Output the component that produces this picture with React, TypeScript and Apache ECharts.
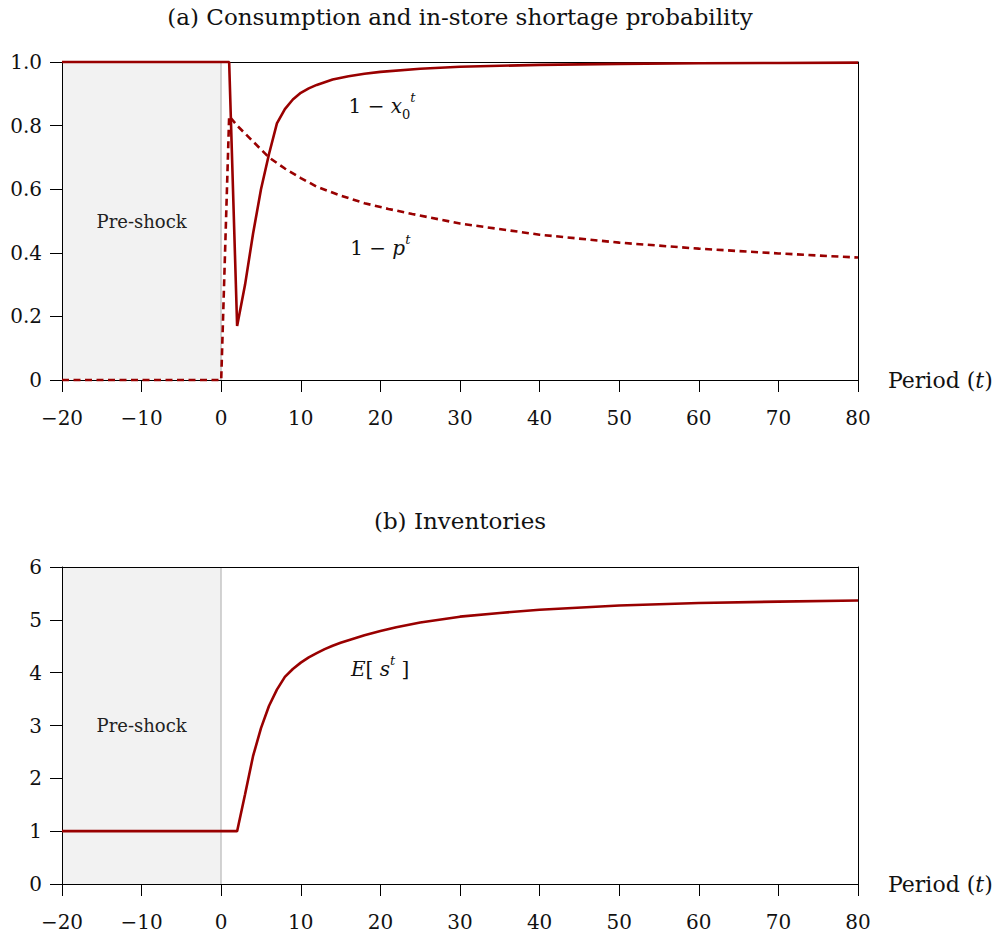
import React, { useEffect, useRef } from "react";
import * as echarts from "echarts";

// ---- data ----
const tConsumption = [-20, 0, 1, 2, 3, 4, 5, 6, 7, 8, 9, 10, 11, 12, 14, 16, 18, 20, 25, 30, 40, 50, 60, 70, 80];
const consumption = [1, 1, 1, 0.17, 0.3, 0.46, 0.6, 0.71, 0.807, 0.852, 0.882, 0.903, 0.917, 0.928, 0.945, 0.955, 0.963, 0.969, 0.979, 0.985, 0.991, 0.994, 0.996, 0.997, 0.998];

const tShortage = [-20, 0, 1, 2, 3, 4, 5, 6, 8, 10, 12, 15, 18, 21, 24, 30, 40, 50, 60, 70, 80];
const shortage = [0, 0, 0.83, 0.8, 0.775, 0.75, 0.725, 0.7, 0.665, 0.635, 0.608, 0.58, 0.556, 0.538, 0.522, 0.492, 0.457, 0.432, 0.413, 0.398, 0.385];

const tInventory = [-20, 0, 2, 3, 4, 5, 6, 7, 8, 9, 10, 11, 12, 13, 14, 15, 16, 18, 20, 22, 25, 30, 35, 40, 50, 60, 70, 80];
const inventory = [1, 1, 1, 1.7, 2.42, 2.95, 3.37, 3.68, 3.92, 4.07, 4.19, 4.29, 4.37, 4.445, 4.51, 4.565, 4.615, 4.71, 4.79, 4.86, 4.95, 5.06, 5.13, 5.19, 5.27, 5.32, 5.345, 5.365];

const xTicks = { min: -20, max: 80, interval: 10 };
const yTicksA = { min: 0, max: 1, interval: 0.2 };
const yTicksB = { min: 0, max: 6, interval: 1 };
const preShock = [-20, 0];
const titles = ["(a) Consumption and in-store shortage probability", "(b) Inventories"];
// annotation anchors [t, value]
const labelX0 = [16.0, 0.863];
const labelP = [16.2, 0.415];
const labelS = [16.3, 4.07];
const preShockLabelText = "Pre-shock";

const RED = "#990000";
const FONT = "'DejaVu Serif', serif";
const TXT = "#111";

const zip = (xs: number[], ys: number[]) => xs.map((x, i) => [x, ys[i]]);

const richStyles = {
  n: { fontFamily: FONT, fontSize: 20, color: TXT, lineHeight: 30 },
  i: { fontFamily: FONT, fontSize: 20, fontStyle: "italic", color: TXT, lineHeight: 30 },
  sub: { fontFamily: FONT, fontSize: 13, color: TXT, lineHeight: 14, verticalAlign: "bottom" },
  sup: { fontFamily: FONT, fontSize: 13, fontStyle: "italic", color: TXT, lineHeight: 16, verticalAlign: "top" },
};

export default function App() {
  const ref = useRef<HTMLDivElement>(null);
  useEffect(() => {
    if (!ref.current) return;
    const chart = echarts.init(ref.current, null, { renderer: "svg" });

    const xAxisBase = (gridIndex: number) => ({
      type: "value",
      gridIndex,
      ...xTicks,
      name: "Period ({it|t})",
      nameLocation: "end",
      nameGap: 30,
      nameTextStyle: {
        fontFamily: FONT,
        fontSize: 22,
        color: TXT,
        verticalAlign: "middle",
        rich: {
          it: { fontFamily: FONT, fontSize: 22, fontStyle: "italic", color: TXT },
        },
      },
      axisLine: { show: true, onZero: false, lineStyle: { color: "#000", width: 1 } },
      axisTick: { show: true, length: 12, lineStyle: { color: "#000", width: 1 } },
      axisLabel: {
        margin: 28,
        fontFamily: FONT,
        fontSize: 20,
        color: TXT,
        formatter: (v: number) => (v < 0 ? "\u2212" + String(-v) : String(v)),
      },
      splitLine: { show: false },
    });

    const frameX = (gridIndex: number) => ({
      type: "value",
      gridIndex,
      ...xTicks,
      position: "top",
      axisLine: { show: true, onZero: false, lineStyle: { color: "#000", width: 1 } },
      axisTick: { show: false },
      axisLabel: { show: false },
      splitLine: { show: false },
    });

    const yAxisBase = (gridIndex: number, ticks: any, fmt: (v: number) => string) => ({
      type: "value",
      gridIndex,
      ...ticks,
      axisLine: { show: true, onZero: false, lineStyle: { color: "#000", width: 1 } },
      axisTick: { show: true, length: 12, lineStyle: { color: "#000", width: 1 } },
      axisLabel: { margin: 20, fontFamily: FONT, fontSize: 20, color: TXT, formatter: fmt },
      splitLine: { show: false },
    });

    const frameY = (gridIndex: number, ticks: any) => ({
      type: "value",
      gridIndex,
      ...ticks,
      position: "right",
      axisLine: { show: true, onZero: false, lineStyle: { color: "#000", width: 1 } },
      axisTick: { show: false },
      axisLabel: { show: false },
      splitLine: { show: false },
    });

    const shadeSeries = (xi: number, yi: number) => ({
      type: "line",
      xAxisIndex: xi,
      yAxisIndex: yi,
      data: [],
      z: -2,
      silent: true,
      markArea: {
        z: -2,
        silent: true,
        itemStyle: { color: "#f2f2f2" },
        label: {
          show: true,
          position: "inside",
          formatter: preShockLabelText,
          fontFamily: FONT,
          fontSize: 18,
          color: "#222",
        },
        data: [[{ xAxis: preShock[0] }, { xAxis: preShock[1] }]],
      },
      markLine: {
        z: -1,
        silent: true,
        symbol: "none",
        label: { show: false },
        lineStyle: { color: "#c4c4c4", width: 1.5, type: "solid" },
        data: [{ xAxis: preShock[1] }],
      },
    });

    const annot = (xi: number, yi: number, pos: number[], text: string) => ({
      type: "scatter",
      xAxisIndex: xi,
      yAxisIndex: yi,
      symbolSize: 0,
      silent: true,
      z: 5,
      itemStyle: { opacity: 1 },
      data: [pos],
      label: {
        show: true,
        position: "right",
        distance: 0,
        color: TXT,
        opacity: 1,
        textBorderWidth: 0,
        formatter: text,
        rich: richStyles,
      },
    });

    chart.setOption({
      animation: false,
      backgroundColor: "#fff",
      grid: [
        { left: 62, top: 62, width: 796, height: 318, show: false },
        { left: 62, top: 567, width: 796, height: 317, show: false },
      ],
      xAxis: [xAxisBase(0), xAxisBase(1), frameX(0), frameX(1)],
      yAxis: [
        yAxisBase(0, yTicksA, (v: number) => (v === 0 ? "0" : v.toFixed(1))),
        yAxisBase(1, yTicksB, (v: number) => String(v)),
        frameY(0, yTicksA),
        frameY(1, yTicksB),
      ],
      graphic: [
        {
          type: "text",
          x: 460,
          y: 17,
          style: { text: titles[0], font: `23px ${FONT}`, fill: TXT, textAlign: "center", textVerticalAlign: "middle" },
        },
        {
          type: "text",
          x: 460,
          y: 521,
          style: { text: titles[1], font: `23px ${FONT}`, fill: TXT, textAlign: "center", textVerticalAlign: "middle" },
        },
      ],
      series: [
        shadeSeries(0, 0),
        shadeSeries(1, 1),
        {
          type: "line",
          name: "1 - x0",
          xAxisIndex: 0,
          yAxisIndex: 0,
          data: zip(tConsumption, consumption),
          showSymbol: false,
          clip: false,
          lineStyle: { color: RED, width: 2.6 },
          z: 3,
        },
        {
          type: "line",
          name: "1 - p",
          xAxisIndex: 0,
          yAxisIndex: 0,
          data: zip(tShortage, shortage),
          showSymbol: false,
          clip: false,
          lineStyle: { color: RED, width: 2.6, type: [7, 4.5] },
          z: 3,
        },
        {
          type: "line",
          name: "E[s]",
          xAxisIndex: 1,
          yAxisIndex: 1,
          data: zip(tInventory, inventory),
          showSymbol: false,
          clip: false,
          lineStyle: { color: RED, width: 2.6 },
          z: 3,
        },
        annot(0, 0, labelX0, "{n|1 − }{i|x}{sub|0}{sup|t}"),
        annot(0, 0, labelP, "{n|1 − }{i|p}{sup|t}"),
        annot(1, 1, labelS, "{i|E}{n|[ }{i|s}{sup|t}{n| ]}"),
      ],
    });
    return () => chart.dispose();
  }, []);
  return <div ref={ref} style={{ position: "absolute", left: 0, top: 0, width: 997, height: 937 }} />;
}
